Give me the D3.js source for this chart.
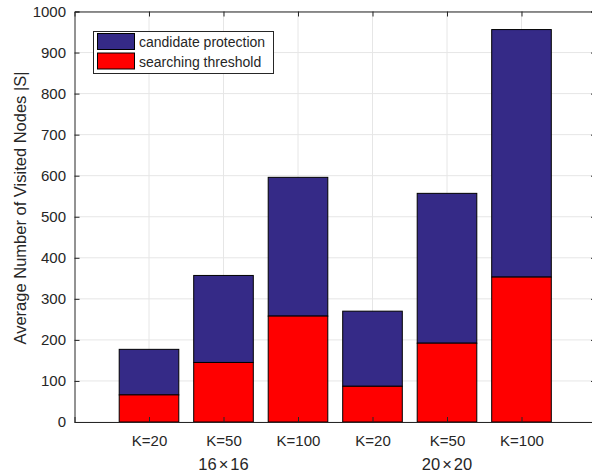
<!DOCTYPE html>
<html><head><meta charset="utf-8">
<script src="https://cdn.jsdelivr.net/npm/d3@7"></script>
<style>body{margin:0;background:#fff}svg{display:block}text{font-family:"Liberation Sans",Arial,sans-serif;fill:#262626}</style>
</head><body><svg id="c" width="592" height="474"></svg>
<script>
const categories = ["K=20","K=50","K=100","K=20","K=50","K=100"];
const groupLabels = [["16","\u00d7","16"],["20","\u00d7","20"]];
const groupCenters = [2,5];
const searchingThreshold = [66,145,258,87,192,353];
const candidateProtection = [111,212,338,183,365,603];
const seriesNames = ["candidate protection","searching threshold"];
const yTicks = [0,100,200,300,400,500,600,700,800,900,1000];

const svg = d3.select("#c");
const L=74.5, R=596, T=11.5, B=422;
const x = d3.scaleLinear().domain([0,7]).range([L,R]);
const y = d3.scaleLinear().domain([0,1000]).range([B,T]);
const bw = (x(1)-x(0))*0.8;
const ink="#262626";

// grid
const g = svg.append("g");
g.selectAll(".hg").data(yTicks).enter().append("line")
 .attr("x1",L).attr("x2",R).attr("y1",d=>y(d)).attr("y2",d=>y(d))
 .attr("stroke","#e6e6e6").attr("stroke-width",1);
g.selectAll(".vg").data(d3.range(1,7)).enter().append("line")
 .attr("y1",T).attr("y2",B).attr("x1",d=>x(d)).attr("x2",d=>x(d))
 .attr("stroke","#e6e6e6").attr("stroke-width",1);

// bars
const data = categories.map((c,i)=>({i:i+1,s:searchingThreshold[i],c:candidateProtection[i]}));
svg.selectAll(".bt").data(data).enter().append("rect")
 .attr("x",d=>x(d.i)-bw/2).attr("width",bw)
 .attr("y",d=>y(d.s+d.c)).attr("height",d=>y(d.s)-y(d.s+d.c))
 .attr("fill","#352a87").attr("stroke","#000").attr("stroke-width",1);
svg.selectAll(".bb").data(data).enter().append("rect")
 .attr("x",d=>x(d.i)-bw/2).attr("width",bw)
 .attr("y",d=>y(d.s)).attr("height",d=>y(0)-y(d.s))
 .attr("fill","#ff0000").attr("stroke","#000").attr("stroke-width",1);

// axes
const yAx = d3.axisLeft(y).tickValues(yTicks).tickSize(-5).tickPadding(8.5).tickFormat(d3.format("d"));
const ya = svg.append("g").attr("transform",`translate(${L},0)`).call(yAx);
ya.select(".domain").attr("stroke",ink);
ya.selectAll(".tick line").attr("stroke",ink);
ya.selectAll("text").attr("font-size",15).style("fill",ink);
const yR = d3.axisRight(y).tickValues(yTicks).tickSize(-5).tickFormat("");
const yr = svg.append("g").attr("transform",`translate(${R},0)`).call(yR);
yr.select(".domain").attr("stroke",ink);
yr.selectAll(".tick line").attr("stroke",ink);

const xAx = d3.axisBottom(x).tickValues(d3.range(1,7)).tickSize(-5).tickPadding(13).tickFormat(d=>categories[d-1]);
const xa = svg.append("g").attr("transform",`translate(0,${B})`).call(xAx);
xa.select(".domain").attr("stroke",ink);
xa.selectAll(".tick line").attr("stroke",ink);
xa.selectAll("text").attr("font-size",15).style("fill",ink);
const xT = d3.axisTop(x).tickValues(d3.range(1,7)).tickSize(-5).tickFormat("");
const xt = svg.append("g").attr("transform",`translate(0,${T})`).call(xT);
xt.select(".domain").attr("stroke",ink);
xt.selectAll(".tick line").attr("stroke",ink);

const gl = svg.selectAll(".gl").data(groupLabels).enter().append("text")
 .attr("x",(d,i)=>x(groupCenters[i])).attr("y",469.5).attr("text-anchor","middle")
 .attr("font-size",16.5);
gl.each(function(d){
  const t=d3.select(this);
  t.append("tspan").text(d[0]);
  t.append("tspan").attr("dx",2).text(d[1]);
  t.append("tspan").attr("dx",2).text(d[2]);
});

svg.append("text").attr("transform",`translate(26,208) rotate(-90)`)
 .attr("text-anchor","middle").attr("font-size",16.5).text("Average Number of Visited Nodes |S|");

// legend
const lg = svg.append("g");
lg.append("rect").attr("x",93.5).attr("y",31.5).attr("width",180).attr("height",42)
 .attr("fill","#fff").attr("stroke",ink).attr("stroke-width",1);
const lc = ["#352a87","#ff0000"];
seriesNames.forEach((n,i)=>{
 lg.append("rect").attr("x",97.5).attr("y",33.5+i*19.5).attr("width",37).attr("height",16)
  .attr("fill",lc[i]).attr("stroke","#000").attr("stroke-width",1);
 lg.append("text").attr("x",139).attr("y",47+i*19.5).attr("font-size",14).text(n);
});
</script></body></html>
